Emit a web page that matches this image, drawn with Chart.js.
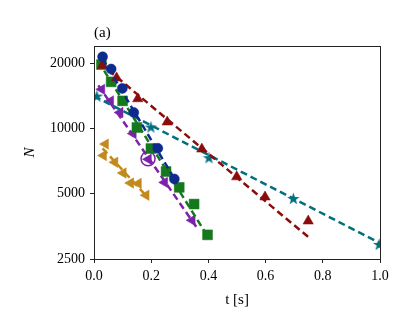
<!DOCTYPE html>
<html>
<head>
<meta charset="utf-8">
<script src="https://cdn.jsdelivr.net/npm/chart.js@4.4.0/dist/chart.umd.min.js"></script>
<style>
  html, body { margin: 0; padding: 0; background: #fff; }
</style>
</head>
<body>
<canvas id="chart" width="411" height="327"></canvas>
<script>
// valeurs
const tCircle = [0.030, 0.060, 0.099, 0.139, 0.223, 0.281];
const nCircle = [21400, 18800, 15300, 11850, 8100, 5850];

const tSquare = [0.026, 0.060, 0.100, 0.150, 0.199, 0.252, 0.298, 0.350, 0.397];
const nSquare = [19700, 16400, 13400, 10100, 8080, 6330, 5350, 4480, 3230];

const tTriUp = [0.029, 0.079, 0.153, 0.256, 0.377, 0.499, 0.598, 0.749];
const nTriUp = [19500, 17100, 13700, 10700, 8030, 5980, 4830, 3740];

const tStar = [0.01, 0.199, 0.402, 0.697, 0.997];
const nStar = [14100, 10150, 7330, 4750, 2920];

const tPurple = [0.027, 0.058, 0.091, 0.137, 0.190, 0.247, 0.343];
const nPurple = [15150, 13400, 11850, 9470, 7210, 5640, 3770];

const tGold = [0.040, 0.033, 0.073, 0.102, 0.128, 0.155, 0.182];
const nGold = [8470, 7500, 6980, 6230, 5600, 5580, 4920];

// point entouré
const tRing = [0.189];
const nRing = [7250];

// droites d'ajustement (extrémités)
const fitCircle = [[0.03, 21000], [0.29, 5600]];
const fitSquare = [[0.015, 20400], [0.385, 3380]];
const fitTriUp = [[0.021, 20000], [0.749, 3160]];
const fitStar = [[0.0, 14100], [1.0, 2960]];
const fitPurple = [[0.015, 15800], [0.36, 3480]];
const fitGold = [[0.03, 8100], [0.185, 4850]];

const yTicks = [2500, 5000, 10000, 20000];

const NAVY = '#0d2b8e', GREEN = '#16781c', RED = '#8c0c0c',
      TEAL = '#00707f', PURPLE = '#7b22aa', GOLD = '#c28a1c';

function pts(t, n) { return t.map((x, i) => ({ x: x, y: n[i] })); }
function seg(f) { return f.map(p => ({ x: p[0], y: p[1] })); }

function starImage(size, color) {
  const c = document.createElement('canvas');
  c.width = c.height = size;
  const g = c.getContext('2d');
  const R = size / 2, r = R * 0.4;
  g.beginPath();
  for (let i = 0; i < 10; i++) {
    const a = -Math.PI / 2 + i * Math.PI / 5;
    const rad = i % 2 ? r : R;
    g.lineTo(R + rad * Math.cos(a), R + 0.5 + rad * Math.sin(a));
  }
  g.closePath();
  g.fillStyle = color;
  g.fill();
  return c;
}

function markers(data, color, style, radius, rotation) {
  return {
    data: data, showLine: false, pointStyle: style, pointRadius: radius,
    pointRotation: rotation || 0, pointBackgroundColor: color,
    pointBorderColor: color, pointBorderWidth: 0.5, borderColor: color
  };
}
function fit(data, color) {
  return {
    data: data, borderColor: color, borderWidth: 2.5, borderDash: [7, 4],
    pointRadius: 0, fill: false, tension: 0
  };
}

// cadre complet autour de la zone de tracé
const boxPlugin = {
  id: 'box',
  afterDraw(chart) {
    const a = chart.chartArea, ctx = chart.ctx;
    ctx.save();
    ctx.strokeStyle = '#222';
    ctx.lineWidth = 1;
    ctx.strokeRect(a.left + 0.5, a.top + 0.5, a.right - a.left, a.bottom - a.top);
    ctx.restore();
  }
};

const FONT = 'Liberation Serif';

new Chart(document.getElementById('chart').getContext('2d'), {
  type: 'line',
  data: {
    datasets: [
      fit(fitCircle, NAVY),
      markers(pts(tCircle, nCircle), NAVY, 'circle', 5),
      fit(fitTriUp, RED),
      markers(pts(tTriUp, nTriUp), RED, 'triangle', 6),
      fit(fitSquare, GREEN),
      markers(pts(tSquare, nSquare), GREEN, 'rect', 7),
      fit(fitStar, TEAL),
      markers(pts(tStar, nStar), TEAL, starImage(13, TEAL), 6),
      {
        data: pts(tRing, nRing), showLine: false, pointStyle: 'circle', pointRadius: 7,
        pointBackgroundColor: 'rgba(0,0,0,0)', pointBorderColor: PURPLE, pointBorderWidth: 1.5
      },
      fit(fitPurple, PURPLE),
      markers(pts(tPurple, nPurple), PURPLE, 'triangle', 6, -90),
      fit(fitGold, GOLD),
      markers(pts(tGold, nGold), GOLD, 'triangle', 6, -90)
    ]
  },
  options: {
    responsive: false,
    animation: false,
    layout: { padding: { left: 0, right: 31, top: 0, bottom: 0 } },
    plugins: {
      legend: { display: false },
      tooltip: { enabled: false },
      title: {
        display: true, text: '(a)', align: 'start', fullSize: false,
        color: '#000', font: { family: FONT, size: 15, weight: 'normal' },
        padding: { top: 24, bottom: 4 }
      }
    },
    scales: {
      x: {
        type: 'linear', min: 0, max: 1,
        afterFit: s => { s.height = 68; },
        ticks: {
          stepSize: 0.2, color: '#000', padding: 5,
          font: { family: FONT, size: 14 },
          callback: v => v.toFixed(1)
        },
        grid: { drawOnChartArea: false, drawTicks: true, tickLength: 4, color: '#222' },
        border: { display: true, color: '#222' },
        title: {
          display: true, text: 't [s]', color: '#000',
          font: { family: FONT, size: 15 }, padding: { top: 0, bottom: 18 }
        }
      },
      y: {
        type: 'logarithmic', min: 2500, max: 24000,
        afterFit: s => { s.width = 94; },
        afterBuildTicks: s => { s.ticks = yTicks.map(v => ({ value: v })); },
        ticks: {
          color: '#000', padding: 5, autoSkip: false,
          font: { family: FONT, size: 14 },
          callback: v => String(v)
        },
        grid: { drawOnChartArea: false, drawTicks: true, tickLength: 4, color: '#222' },
        border: { display: true, color: '#222' },
        title: {
          display: true, text: 'N', color: '#000',
          font: { family: FONT, size: 15, style: 'italic' }, padding: { top: 21, bottom: 0 }
        }
      }
    }
  },
  plugins: [boxPlugin]
});
</script>
</body>
</html>
